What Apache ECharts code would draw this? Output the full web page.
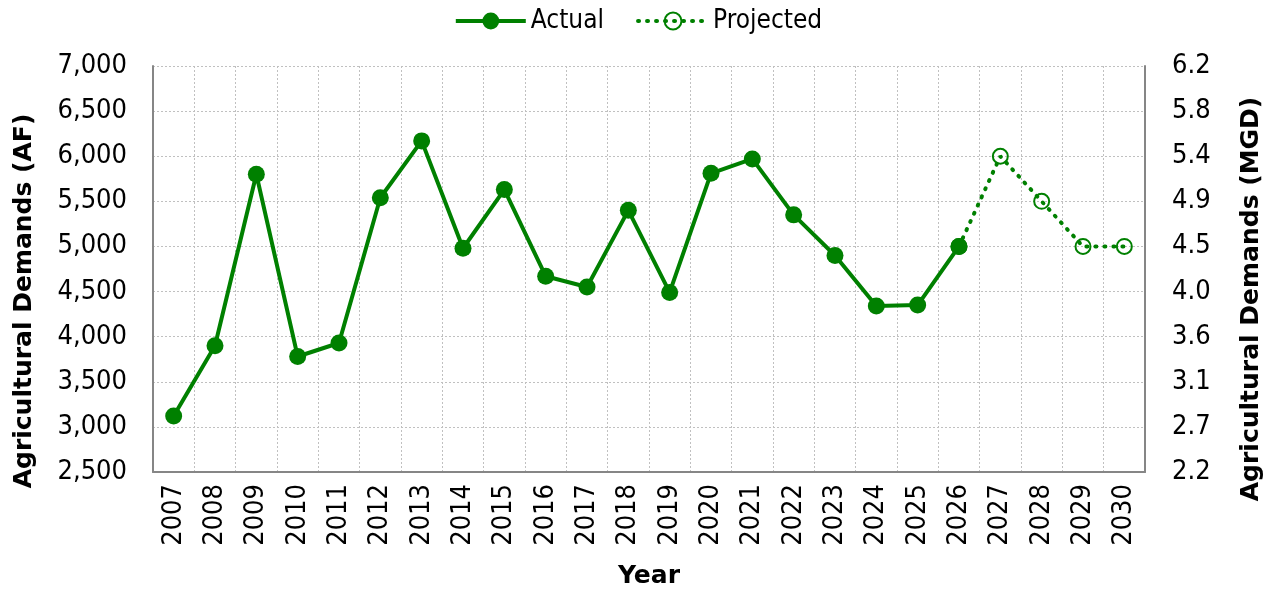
<!DOCTYPE html>
<html>
<head>
<meta charset="utf-8">
<script src="https://cdn.jsdelivr.net/npm/echarts@6/dist/echarts.min.js"></script>
<style>
  html, body { margin: 0; padding: 0; background: #fff; }
  #chart { width: 1276px; height: 594px; }
</style>
</head>
<body>
<div id="chart"></div>
<script>
// years on the x axis
const years = [
  "2007", "2008", "2009", "2010", "2011", "2012", "2013", "2014",
  "2015", "2016", "2017", "2018", "2019", "2020", "2021", "2022",
  "2023", "2024", "2025", "2026", "2027", "2028", "2029", "2030"
];

// actual demands (AF), 2007-2026
const actualAF = [
  3120, 3900, 5800, 3780, 3930, 5540, 6170, 4980,
  5630, 4670, 4550, 5400, 4490, 5810, 5970, 5350,
  4900, 4340, 4350, 5000, null, null, null, null
];

// projected demands (AF), starts from the last actual year
const projectedAF = [
  null, null, null, null, null, null, null, null,
  null, null, null, null, null, null, null, null,
  null, null, null, 5000, 6000, 5500, 5000, 5000
];

// AF per year -> million gallons per day
const AF_TO_MGD = 325851 / 365 / 1e6;

const FONT = "'DejaVu Sans Condensed', 'DejaVu Sans', sans-serif";
const TITLE_FONT = "'DejaVu Sans', sans-serif";
const GREEN = "#008000";

const chart = echarts.init(document.getElementById("chart"));

const gridLine = {
  show: true,
  lineStyle: { color: "#c0c0c0", type: [2, 2], width: 1 }
};

// title padding pushes the rotated names a bit below the plot centre
const titleStyle = {
  fontSize: 25, fontWeight: "bold", color: "#000", fontFamily: TITLE_FONT
};

const option = {
  animation: false,
  textStyle: { fontFamily: FONT },
  legend: {
    top: 3,
    left: "center",
    itemWidth: 70,
    itemHeight: 21,
    itemGap: 32,
    lineStyle: { width: 4 },
    textStyle: { fontSize: 26, color: "#000", fontFamily: FONT },
    data: ["Actual", "Projected"]
  },
  grid: { left: 153, right: 131, top: 66, bottom: 120 },
  xAxis: {
    type: "category",
    data: years,
    boundaryGap: true,
    name: "Year",
    nameLocation: "middle",
    nameGap: 92,
    nameTextStyle: titleStyle,
    axisLine: { show: true, lineStyle: { color: "#868686", width: 2 } },
    axisTick: { show: false },
    axisLabel: { rotate: 90, fontSize: 27, color: "#000", margin: 12, fontFamily: FONT },
    splitLine: gridLine
  },
  yAxis: [
    {
      type: "value",
      min: 2500,
      max: 7000,
      interval: 500,
      name: "Agricultural Demands (AF)",
      nameLocation: "middle",
      nameGap: 116,
      nameTextStyle: Object.assign({ padding: [0, 64, 0, 0] }, titleStyle),
      axisLine: { show: true, lineStyle: { color: "#868686", width: 2 } },
      axisTick: { show: false },
      axisLabel: {
        fontSize: 27, color: "#000", margin: 26, fontFamily: FONT,
        formatter: (v) => v.toLocaleString("en-US")
      },
      splitLine: gridLine
    },
    {
      type: "value",
      min: 2500,
      max: 7000,
      interval: 500,
      position: "right",
      name: "Agricultural Demands (MGD)",
      nameLocation: "middle",
      nameGap: 94,
      nameTextStyle: Object.assign({ padding: [0, 60, 0, 0] }, titleStyle),
      axisLine: { show: true, lineStyle: { color: "#868686", width: 2 } },
      axisTick: { show: false },
      axisLabel: {
        fontSize: 27, color: "#000", margin: 27, fontFamily: FONT,
        formatter: (v) => (v * AF_TO_MGD).toFixed(1)
      },
      splitLine: { show: false }
    }
  ],
  series: [
    {
      name: "Projected",
      type: "line",
      data: projectedAF,
      symbol: "circle",
      symbolSize: 15,
      connectNulls: false,
      lineStyle: { color: GREEN, width: 4, type: [1, 8], cap: "round" },
      itemStyle: { color: "rgba(255,255,255,0)", borderColor: GREEN, borderWidth: 2 },
      z: 2
    },
    {
      name: "Actual",
      type: "line",
      data: actualAF,
      symbol: "circle",
      symbolSize: 17,
      lineStyle: { color: GREEN, width: 4 },
      itemStyle: { color: GREEN },
      z: 3
    }
  ]
};

chart.setOption(option);
</script>
</body>
</html>
